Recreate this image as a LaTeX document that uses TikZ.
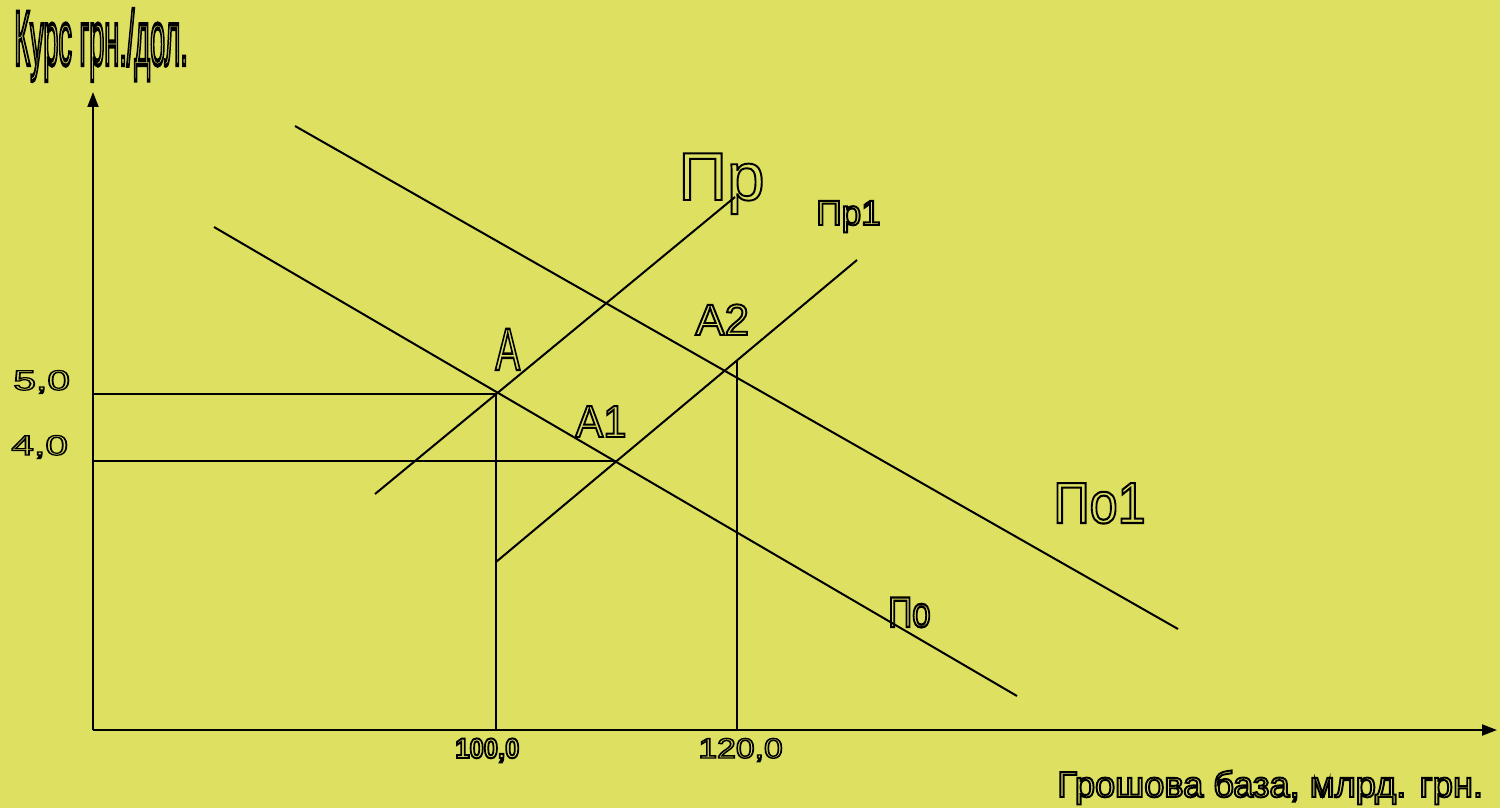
\documentclass[tikz,border=0pt]{standalone}
\usepackage{fontspec}
\setmainfont{Liberation Sans}
\usetikzlibrary{arrows.meta}
\definecolor{bg}{RGB}{222,224,98}
\newcommand{\olt}[1][1.1]{\special{pdf:code 1 Tr #1 w}}
\tikzset{
  lbl/.style={inner sep=0pt, anchor=base west, text=black},
  ln/.style={line width=0.04cm, black},
  axis/.style={line width=0.04cm, black, -{Triangle[length=0.3cm,width=0.22cm]}},
}
\begin{document}
\begin{tikzpicture}[x=0.02cm,y=-0.02cm]
\fill[bg] (0,0) rectangle (1500,808);
\useasboundingbox (0,0) rectangle (1500,808);
% coordinates
\coordinate (O) at (93,730);
\coordinate (ytip) at (93,92);
\coordinate (xtip) at (1497,730);
\coordinate (A) at (496,394);
\coordinate (A1) at (616,461);
\coordinate (A2top) at (737,361);
\coordinate (y5) at (93,394);
\coordinate (y4) at (93,461);
\coordinate (x100) at (496,730);
\coordinate (x120) at (737,730);
\coordinate (Po0) at (214,227);
\coordinate (Po1) at (1017,696);
\coordinate (Pq0) at (295,126);
\coordinate (Pq1) at (1178,629);
\coordinate (Pr0) at (375,494);
\coordinate (Pr1) at (735,197);
\coordinate (Ps0) at (496,562);
\coordinate (Ps1) at (857,260);
% axes
\draw[axis] (O) -- (ytip);
\draw[axis] (O) -- (xtip);
% guide lines
\draw[ln] (y5) -- (A);
\draw[ln] (y4) -- (A1);
\draw[ln] (A) -- (x100);
\draw[ln] (A2top) -- (x120);
% curves
\draw[ln] (Po0) -- (Po1);
\draw[ln] (Pq0) -- (Pq1);
\draw[ln] (Pr0) -- (Pr1);
\draw[ln] (Ps0) -- (Ps1);
% labels
\node[lbl] (ylab) at (14,65) {\fontsize{44pt}{44pt}\selectfont\scalebox{0.35}[1]{\olt[2.4]Курс грн./дол.}};
\node[lbl] (lPr) at (678,200) {\fontsize{38.5pt}{38.5pt}\selectfont\olt Пр};
\node[lbl] (lPr1) at (816,225) {\fontsize{20pt}{20pt}\selectfont\olt Пр1};
\node[lbl] (l5) at (13,390) {\fontsize{16pt}{16pt}\selectfont\scalebox{1.45}[1]{\olt[0.7]5,0}};
\node[lbl] (l4) at (11,455) {\fontsize{16pt}{16pt}\selectfont\scalebox{1.45}[1]{\olt[0.7]4,0}};
\node[lbl] (lA) at (495,370) {\fontsize{34pt}{34pt}\selectfont\scalebox{0.62}[1]{\olt[1.4]А}};
\node[lbl] (lA1) at (575,437) {\fontsize{25.6pt}{25.6pt}\selectfont\scalebox{0.93}[1]{\olt А1}};
\node[lbl] (lA2) at (695,335) {\fontsize{25pt}{25pt}\selectfont\olt А2};
\node[lbl] (lPo1) at (1053,523) {\fontsize{33pt}{33pt}\selectfont\scalebox{0.87}[1]{\olt[1.2]По1}};
\node[lbl] (lPo) at (888,627) {\fontsize{24.5pt}{24.5pt}\selectfont\scalebox{0.77}[1]{\olt[1.3]По}};
\node[lbl] (l100) at (455,758) {\fontsize{16pt}{16pt}\selectfont\bfseries\scalebox{0.91}[1]{\olt 100,0}};
\node[lbl] (l120) at (698,758) {\fontsize{16pt}{16pt}\selectfont\scalebox{1.2}[1]{\olt[0.8]120,0}};
\node[lbl] (xlab) at (1057,797) {\fontsize{20.6pt}{20.6pt}\selectfont\olt Грошова база, млрд. грн.};
\end{tikzpicture}
\end{document}
